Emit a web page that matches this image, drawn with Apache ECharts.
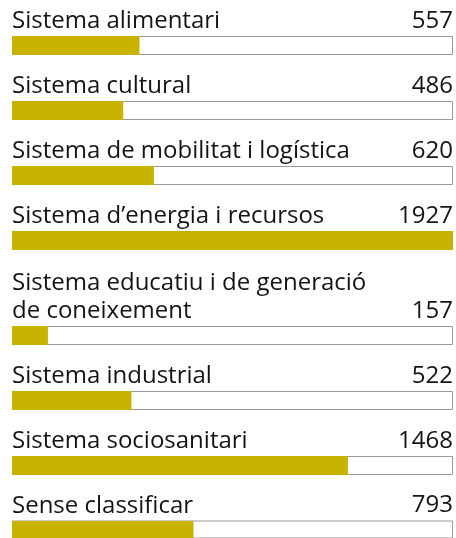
<!DOCTYPE html>
<html>
<head>
<meta charset="utf-8">
<style>
  html, body { margin: 0; padding: 0; background: #ffffff; }
  #chart { width: 456px; height: 538px; }
</style>
<script src="https://cdn.jsdelivr.net/npm/echarts@6/dist/echarts.min.js"></script>
</head>
<body>
<div id="chart"></div>
<script>
// Projects per system
const categories = [
  'Sistema alimentari',
  'Sistema cultural',
  'Sistema de mobilitat i logística',
  'Sistema d\u2019energia i recursos',
  'Sistema educatiu i de generació\nde coneixement',
  'Sistema industrial',
  'Sistema sociosanitari',
  'Sense classificar'
];
const values = [557, 486, 620, 1927, 157, 522, 1468, 793];

const maxValue = Math.max(...values);

// Row layout
const firstBarTop = 36;
const rowStep = 65;
const extraLine = 30;
const barHeight = 19;
const fillColor = '#c7b300';
const trackBorder = '#9a9a9a';
const textColor = '#141414';
const fontFamily = '"Open Sans", "Noto Sans", sans-serif';
const fontSize = 24;
const lineHeight = 28;
const labelGap = -1;

const grids = [], xAxes = [], yAxes = [], series = [];
let rowTop = firstBarTop;
categories.forEach((name, i) => {
  const lines = name.split('\n').length;
  if (i > 0) rowTop += rowStep + (lines - 1) * extraLine;
  grids.push({ left: 12, right: 3, top: rowTop, height: barHeight });
  xAxes.push({ type: 'value', gridIndex: i, min: 0, max: maxValue, show: false });
  yAxes.push({ type: 'category', gridIndex: i, data: [name], show: false });

  // full-width track with thin outline, carrying the value text
  series.push({
    type: 'bar', xAxisIndex: i, yAxisIndex: i,
    data: [maxValue], barWidth: barHeight, barGap: '-100%',
    silent: true, z: 1,
    itemStyle: { color: '#ffffff', borderColor: trackBorder, borderWidth: 1 },
    label: {
      show: true, position: ['100%', labelGap], align: 'right', verticalAlign: 'bottom',
      formatter: () => String(values[i]),
      color: textColor, fontFamily: fontFamily, fontSize: fontSize, lineHeight: lineHeight
    }
  });
  // filled share, carrying the category name
  series.push({
    type: 'bar', xAxisIndex: i, yAxisIndex: i,
    data: [values[i]], barWidth: barHeight, barGap: '-100%',
    silent: true, z: 2,
    itemStyle: { color: fillColor },
    label: {
      show: true, position: [0, labelGap], align: 'left', verticalAlign: 'bottom',
      formatter: () => name,
      color: textColor, fontFamily: fontFamily, fontSize: fontSize, lineHeight: lineHeight
    }
  });
});

const chart = echarts.init(document.getElementById('chart'), null, { renderer: 'canvas' });
chart.setOption({
  animation: false,
  backgroundColor: '#ffffff',
  grid: grids,
  xAxis: xAxes,
  yAxis: yAxes,
  series: series
});
</script>
</body>
</html>
